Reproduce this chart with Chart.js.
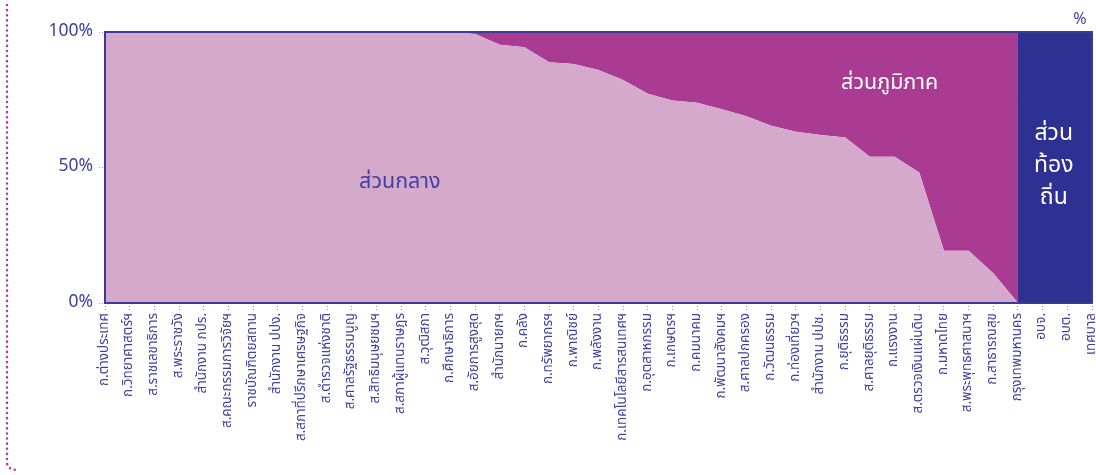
<!DOCTYPE html>
<html lang="th">
<head>
<meta charset="utf-8">
<title>สัดส่วนส่วนกลาง ส่วนภูมิภาค ส่วนท้องถิ่น</title>
<script src="https://cdn.jsdelivr.net/npm/chart.js@4/dist/chart.umd.min.js"></script>
<style>
  html, body { margin: 0; padding: 0; background: #ffffff; }
  .wrap { position: relative; width: 1096px; height: 475px; }
</style>
</head>
<body>
<div class="wrap"><canvas id="chart" width="1096" height="475"></canvas></div>
<script>
// === DATA ===
const agencies = [
    "ก.ต่างประเทศ", "ก.วิทยาศาสตร์ฯ", "ส.ราชเลขาธิการ", "ส.พระราชวัง", "สำนักงาน กปร.",
    "ส.คณะกรรมการวิจัยฯ", "ราชบัณฑิตยสถาน", "สำนักงาน ปปง.", "ส.สภาที่ปรึกษาเศรษฐกิจ", "ส.ตำรวจแห่งชาติ",
    "ส.ศาลรัฐธรรมนูญ", "ส.สิทธิมนุษยชนฯ", "ส.สภาผู้แทนราษฎร", "ส.วุฒิสภา", "ก.ศึกษาธิการ",
    "ส.อัยการสูงสุด", "สำนักนายกฯ", "ก.คลัง", "ก.ทรัพยากรฯ", "ก.พาณิชย์",
    "ก.พลังงาน", "ก.เทคโนโลยีสารสนเทศฯ", "ก.อุตสาหกรรม", "ก.เกษตรฯ", "ก.คมนาคม",
    "ก.พัฒนาสังคมฯ", "ส.ศาลปกครอง", "ก.วัฒนธรรม", "ก.ท่องเที่ยวฯ", "สำนักงาน ปปช.",
    "ก.ยุติธรรม", "ส.ศาลยุติธรรม", "ก.แรงงาน", "ส.ตรวจเงินแผ่นดิน", "ก.มหาดไทย",
    "ส.พระพุทธศาสนาฯ", "ก.สาธารณสุข", "กรุงเทพมหานคร", "อบจ.", "อบต.",
    "เทศบาล"
];

// % ส่วนกลาง
const centralShare = [
    100, 100, 100, 100, 100, 100, 100, 100, 100, 100,
    100, 100, 100, 100, 100, 99.3, 95.3, 94.4, 88.8, 88.2,
    86.0, 82.3, 77.2, 74.7, 73.9, 71.5, 68.9, 65.4, 63.2, 62.0,
    61.1, 54.0, 54.0, 48.2, 19.3, 19.3, 11.0, 0, 0, 0,
    0
];

// % ส่วนภูมิภาค
const regionalShare = [
    0, 0, 0, 0, 0, 0, 0, 0, 0, 0,
    0, 0, 0, 0, 0, 0.7, 4.7, 5.6, 11.2, 11.8,
    14.0, 17.7, 22.8, 25.3, 26.1, 28.5, 31.1, 34.6, 36.8, 38.0,
    38.9, 46.0, 46.0, 51.8, 80.7, 80.7, 89.0, 0, 0, 0,
    0
];

// % ส่วนท้องถิ่น
const localShare = [
    0, 0, 0, 0, 0, 0, 0, 0, 0, 0,
    0, 0, 0, 0, 0, 0, 0, 0, 0, 0,
    0, 0, 0, 0, 0, 0, 0, 0, 0, 0,
    0, 0, 0, 0, 0, 0, 0, 100, 100, 100,
    100
];

const yTickValues = [0, 50, 100];

// === STYLE ===
const FONT = '"Noto Sans Thai", "Noto Sans", "DejaVu Sans", sans-serif';
const TEXT_BLUE = "#3f42a0";
const TICK_COLOR = "#9496c8";

// ป้ายชื่อในพื้นที่ + เส้นประด้านซ้าย + กรอบ
const decorPlugin = {
    id: "decor",
    beforeDraw(chart) {
        const ctx = chart.ctx;
        ctx.save();
        ctx.strokeStyle = "#b23a9e";
        ctx.lineWidth = 2.5;
        ctx.lineCap = "round";
        ctx.setLineDash([0.1, 5]);
        ctx.beginPath();
        ctx.moveTo(7, 5);
        ctx.lineTo(7, 462);
        ctx.quadraticCurveTo(7, 470, 18, 470);
        ctx.stroke();
        ctx.restore();
    },
    afterDatasetsDraw(chart) {
        const ctx = chart.ctx;
        const area = chart.chartArea;
        const x = chart.scales.x;
        const y = chart.scales.y;

        ctx.save();
        ctx.strokeStyle = "#3b3b96";
        ctx.lineWidth = 2;
        ctx.strokeRect(area.left, area.top, area.right - area.left, area.bottom - area.top);

        ctx.textAlign = "center";
        ctx.textBaseline = "middle";

        ctx.font = "21.5px " + FONT;
        ctx.fillStyle = TEXT_BLUE;
        ctx.fillText("ส่วนกลาง", x.getPixelForValue(11.95), y.getPixelForValue(44));

        ctx.fillStyle = "#ffffff";
        ctx.fillText("ส่วนภูมิภาค", x.getPixelForValue(31.8), y.getPixelForValue(80.5));

        ctx.font = "23px " + FONT;
        const localLines = ["ส่วน", "ท้อง", "ถิ่น"];
        localLines.forEach((line, i) => {
            ctx.fillText(line, x.getPixelForValue(38.45), y.getPixelForValue(50) + (i - 1) * 32);
        });

        ctx.font = "16px " + FONT;
        ctx.fillStyle = TEXT_BLUE;
        ctx.fillText("%", area.right - 12, area.top - 11);
        ctx.restore();
    }
};

const ctx = document.getElementById("chart").getContext("2d");

const chart = new Chart(ctx, {
    type: "line",
    data: {
        labels: agencies,
        datasets: [
            {
                label: "ส่วนกลาง",
                data: centralShare,
                backgroundColor: "#d4a9cc",
                borderWidth: 0,
                pointRadius: 0,
                fill: "origin"
            },
            {
                label: "ส่วนภูมิภาค",
                data: regionalShare,
                backgroundColor: "#a93c92",
                borderWidth: 0,
                pointRadius: 0,
                stepped: "before",
                fill: "-1"
            },
            {
                label: "ส่วนท้องถิ่น",
                data: localShare,
                backgroundColor: "#2e3192",
                borderWidth: 0,
                pointRadius: 0,
                stepped: "before",
                fill: "-1"
            }
        ]
    },
    options: {
        responsive: false,
        animation: false,
        events: [],
        layout: { padding: { top: 32, right: 4, left: 0, bottom: 0 } },
        scales: {
            x: {
                offset: false,
                border: { display: false },
                grid: {
                    drawOnChartArea: false,
                    tickLength: 7,
                    tickColor: TICK_COLOR,
                    tickBorderDash: [1, 2]
                },
                ticks: {
                    autoSkip: false,
                    minRotation: 90,
                    maxRotation: 90,
                    padding: 3,
                    color: TEXT_BLUE,
                    font: { family: FONT, size: 13.5 }
                },
                afterFit(scale) {
                    scale.height = 172;
                    scale.paddingLeft = 0;
                    scale.paddingRight = 0;
                }
            },
            y: {
                stacked: true,
                min: 0,
                max: 100,
                border: { display: false },
                grid: {
                    drawOnChartArea: false,
                    tickLength: 6,
                    tickColor: TICK_COLOR,
                    tickBorderDash: [1, 2]
                },
                ticks: {
                    padding: 6,
                    color: TEXT_BLUE,
                    font: { family: FONT, size: 17.5 },
                    callback: (v) => v + "%"
                },
                afterBuildTicks(scale) {
                    scale.ticks = yTickValues.map((v) => ({ value: v }));
                },
                afterFit(scale) {
                    scale.width = 105;
                    scale.paddingTop = 0;
                    scale.paddingBottom = 0;
                }
            }
        },
        plugins: {
            legend: { display: false },
            tooltip: { enabled: false }
        }
    },
    plugins: [decorPlugin]
});
</script>
</body>
</html>
